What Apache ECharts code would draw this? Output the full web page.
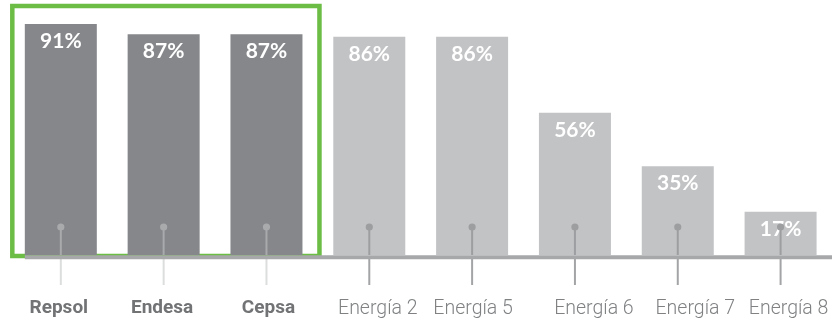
<!DOCTYPE html>
<html>
<head>
<meta charset="utf-8">
<script src="https://cdn.jsdelivr.net/npm/echarts@6/dist/echarts.min.js"></script>
<style>
html,body{margin:0;padding:0;background:#fff;}
#chart{width:832px;height:325px;}
</style>
</head>
<body>
<div id="chart"></div>
<script>
const categories = ['Repsol', 'Endesa', 'Cepsa', 'Energía 2', 'Energía 5', 'Energía 6', 'Energía 7', 'Energía 8'];
const values = [91, 87, 87, 86, 86, 56, 35, 17];
const highlightCount = 3;

// horizontal nudge of each category label (px), style only
const labelShift = [-2, -1.5, 2, 8.5, 1, 19, 17.5, 8];

const DARK = '#85878a';
const LIGHT = '#c2c3c5';
const GREEN = '#6cbd45';
const BASE = '#a7a8aa';

const chart = echarts.init(document.getElementById('chart'), null, {renderer: 'canvas'});

const axisData = categories.map(function (c, i) {
  const s = labelShift[i];
  const pad = s >= 0 ? [0, 0, 0, 2 * s] : [0, -2 * s, 0, 0];
  return {value: c, textStyle: {padding: pad}};
});

const option = {
  animation: false,
  backgroundColor: '#fff',
  grid: {left: 9.4, top: 1.2, width: 825.1, height: 253.8, containLabel: false},
  xAxis: {
    type: 'category',
    data: axisData,
    axisLine: {show: false},
    axisTick: {show: false},
    axisLabel: {
      margin: 44,
      interval: 0,
      formatter: function (v, i) {
        return i < highlightCount ? '{b|' + v + '}' : '{n|' + v + '}';
      },
      rich: {
        b: {fontFamily: 'Roboto', fontWeight: 'bold', fontSize: 19, color: '#717375'},
        n: {fontFamily: 'Roboto', fontWeight: 300, fontSize: 19.5, color: '#7f8183'}
      }
    }
  },
  yAxis: {
    type: 'value', min: 0, max: 100, show: false,
    splitLine: {show: false}
  },
  series: [
    {
      type: 'bar',
      data: values,
      barWidth: 72,
      z: 3,
      itemStyle: {
        color: function (p) { return p.dataIndex < highlightCount ? DARK : LIGHT; }
      },
      label: {
        show: true,
        position: 'insideTop',
        distance: 7,
        formatter: '{c}%',
        color: '#ffffff',
        fontFamily: 'Lato',
        fontWeight: 'bold',
        fontSize: 21
      }
    },
    {
      type: 'custom',
      z: 5,
      clip: false,
      data: categories.map(function (c, i) { return [i, 0]; }),
      renderItem: function (params, api) {
        const i = api.value(0);
        const p = api.coord([i, 0]);
        const dark = i < highlightCount;
        const inner = dark ? '#a8aaac' : '#9d9ea0';
        const outer = dark ? '#dcdddd' : '#a3a4a6';
        return {
          type: 'group',
          children: [
            {type: 'line', shape: {x1: p[0], y1: p[1] - 28, x2: p[0], y2: p[1]}, style: {stroke: inner, lineWidth: 2}},
            {type: 'line', shape: {x1: p[0], y1: p[1] + 4, x2: p[0], y2: p[1] + 30}, style: {stroke: outer, lineWidth: 2}},
            {type: 'circle', shape: {cx: p[0], cy: p[1] - 28, r: 3.6}, style: {fill: inner}}
          ]
        };
      }
    }
  ]
};

chart.setOption(option);

// decorations placed from the axis scales
const x0 = chart.convertToPixel({xAxisIndex: 0}, 0);
const x2 = chart.convertToPixel({xAxisIndex: 0}, highlightCount - 1);
const yZero = chart.convertToPixel({yAxisIndex: 0}, 0);
const yTop = chart.convertToPixel({yAxisIndex: 0}, 100);
const half = 36;

chart.setOption({
  graphic: [
    {
      type: 'rect', z: 1, silent: true,
      shape: {x: x0 - half - 12.5, y: yTop + 4.8, width: (x2 + half + 17) - (x0 - half - 12.5), height: (yZero + 1) - (yTop + 4.8)},
      style: {fill: 'none', stroke: GREEN, lineWidth: 4.5}
    },
    {
      type: 'line', z: 10, silent: true,
      shape: {x1: x0 - half, y1: yZero + 2.3, x2: 832, y2: yZero + 2.3},
      style: {stroke: BASE, lineWidth: 4}
    }
  ]
});
</script>
</body>
</html>
